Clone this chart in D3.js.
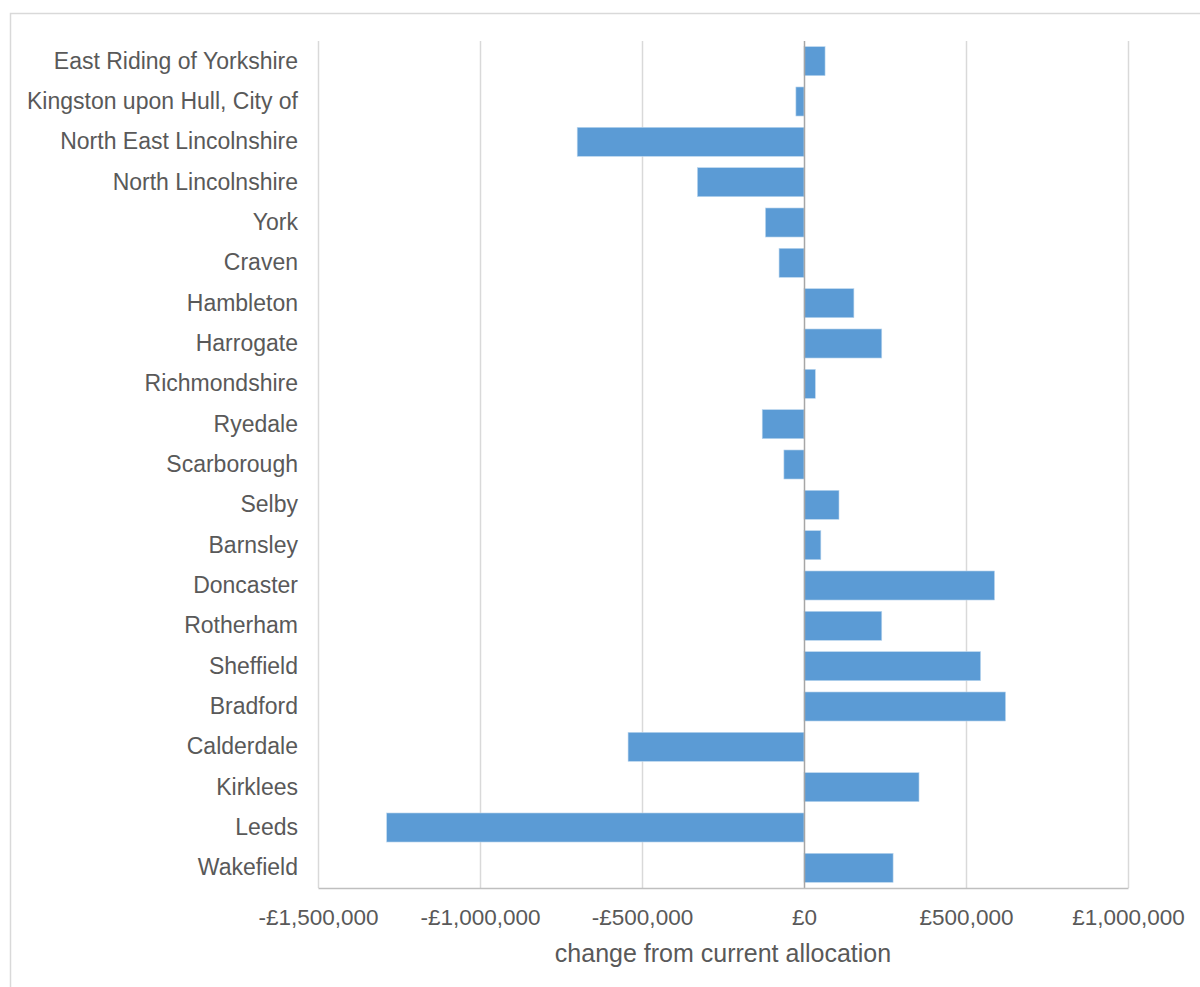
<!DOCTYPE html>
<html><head><meta charset="utf-8">
<script src="https://cdn.jsdelivr.net/npm/d3@7"></script>
<style>body{margin:0;background:#fff}svg{display:block}text{font-family:"Liberation Sans",Arial,sans-serif}</style>
</head><body>
<script>
const categories = ["East Riding of Yorkshire","Kingston upon Hull, City of","North East Lincolnshire","North Lincolnshire","York","Craven","Hambleton","Harrogate","Richmondshire","Ryedale","Scarborough","Selby","Barnsley","Doncaster","Rotherham","Sheffield","Bradford","Calderdale","Kirklees","Leeds","Wakefield"];
const values = [65000,-25000,-700000,-329000,-119000,-77000,154000,240000,35000,-129000,-62000,108000,52000,588000,240000,545000,622000,-543000,355000,-1288000,275000];
const tickValues = [-1500000,-1000000,-500000,0,500000,1000000];
const axisTitle = "change from current allocation";

(function(){
const W=1200,H=987;
const svg=d3.select("body").append("svg").attr("width",W).attr("height",H);
svg.append("rect").attr("x",10.5).attr("y",13.5).attr("width",1200).attr("height",1000)
  .attr("fill","none").attr("stroke","#d9d9d9").attr("stroke-width",1.5);

const pL=318,pR=1128,pT=41,pB=888;
const x=d3.scaleLinear().domain([-1500000,1000000]).range([pL,pR]);
const y=d3.scaleBand().domain(categories).range([pT,pB]).paddingInner(0.28).paddingOuter(0.14);

const fmt=v=>(v<0?"-":"")+"£"+d3.format(",")(Math.abs(v));

svg.append("g").selectAll("line").data(tickValues.filter(v=>v!==0)).join("line")
  .attr("x1",d=>Math.round(x(d))+0.5).attr("x2",d=>Math.round(x(d))+0.5)
  .attr("y1",pT).attr("y2",pB).attr("stroke","#d9d9d9").attr("stroke-width",1.5);

svg.append("g").selectAll("rect").data(categories).join("rect")
  .attr("x",(d,i)=>x(Math.min(0,values[i])))
  .attr("width",(d,i)=>Math.abs(x(values[i])-x(0)))
  .attr("y",d=>y(d)).attr("height",y.bandwidth())
  .attr("fill","#5b9bd5").attr("stroke","#bdd7ee").attr("stroke-width",0.6);

svg.append("line").attr("x1",x(0)+0.5).attr("x2",x(0)+0.5).attr("y1",pT).attr("y2",pB)
  .attr("stroke","#a6a6a6").attr("stroke-width",1.5);

const xAxis=d3.axisBottom(x).tickValues(tickValues).tickFormat(fmt).tickSize(0).tickPadding(21);
const gx=svg.append("g").attr("transform",`translate(0,${pB})`).call(xAxis);
gx.select(".domain").attr("stroke","#bfbfbf").attr("stroke-width",1.5);
gx.selectAll("text").attr("font-size",22.5).attr("fill","#595959").attr("font-family","Liberation Sans, Arial, sans-serif");

const yAxis=d3.axisLeft(y).tickSize(0).tickPadding(20);
const gy=svg.append("g").attr("transform",`translate(${pL},0)`).call(yAxis);
gy.select(".domain").remove();
gy.selectAll("text").attr("font-size",23).attr("fill","#595959").attr("font-family","Liberation Sans, Arial, sans-serif");

svg.append("text").attr("x",(pL+pR)/2).attr("y",962).attr("text-anchor","middle")
  .attr("font-size",25).attr("fill","#595959").text(axisTitle);
})();
</script>
</body></html>
